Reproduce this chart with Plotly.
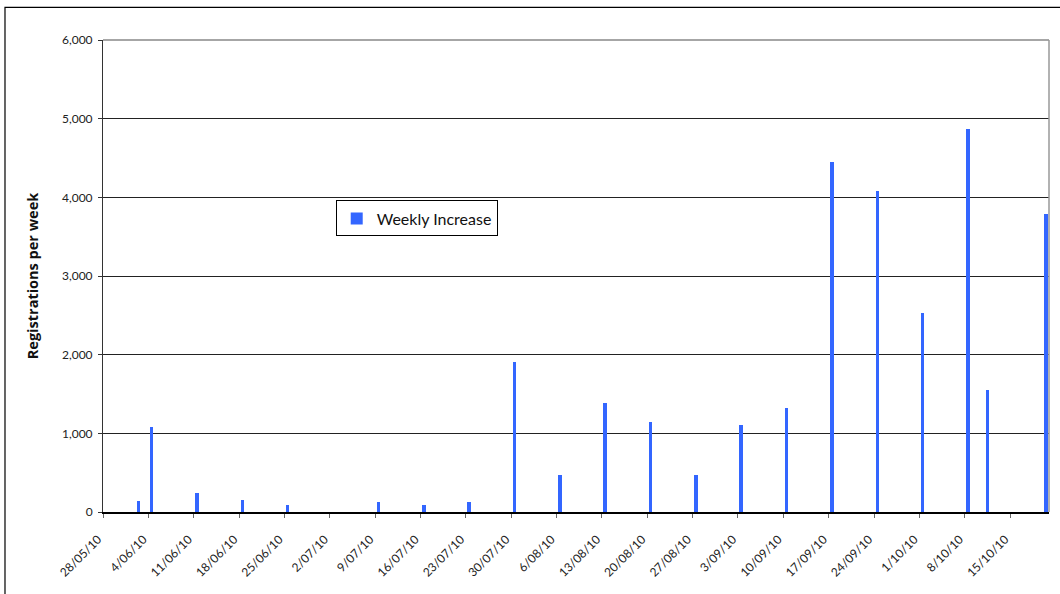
import pandas as pd
import plotly.graph_objects as go

# Weekly registration increases (date of count, registrations added)
dates = [
    "2010-06-02", "2010-06-04", "2010-06-11", "2010-06-18", "2010-06-25",
    "2010-07-09", "2010-07-16", "2010-07-23", "2010-07-30", "2010-08-06",
    "2010-08-13", "2010-08-20", "2010-08-27", "2010-09-03", "2010-09-10",
    "2010-09-17", "2010-09-24", "2010-10-01", "2010-10-08", "2010-10-11",
    "2010-10-20",
]
weekly_increase = [
    140, 1085, 240, 150, 85,
    123, 85, 123, 1910, 475,
    1390, 1148, 475, 1110, 1326,
    4455, 4086, 2536, 4872, 1545,
    3792,
]

# Axis settings
x_start, x_end = "2010-05-28", "2010-10-21"
tick_dates = pd.date_range(x_start, "2010-10-15", freq="7D")
y_ticks = [0, 1000, 2000, 3000, 4000, 5000, 6000]

FONT = "Lato, 'Open Sans', sans-serif"
TITLE_FONT = "'Open Sans', Lato, sans-serif"
DAY_MS = 86400000

fig = go.Figure()
fig.add_trace(go.Bar(
    x=pd.to_datetime(dates),
    y=weekly_increase,
    name="Weekly Increase",
    marker=dict(color="#3366FF", line=dict(width=0)),
    width=0.55 * DAY_MS,
    xperiod=DAY_MS,
    xperiodalignment="middle",
    showlegend=True,
))

fig.update_layout(
    width=1060,
    height=594,
    margin=dict(l=103, r=11, t=40, b=82, autoexpand=False),
    paper_bgcolor="white",
    plot_bgcolor="white",
    font=dict(family=FONT, size=12, color="#222"),
    bargap=0,
    showlegend=True,
    legend=dict(
        x=0.246, y=0.66, xanchor="left", yanchor="top",
        bgcolor="white", bordercolor="#000", borderwidth=1,
        font=dict(family=FONT, size=16, color="#111"),
        itemwidth=30,
        tracegroupgap=0,
    ),
    xaxis=dict(
        type="date",
        range=[x_start, x_end],
        tickvals=tick_dates,
        ticktext=[d.strftime("%-d/%m/%y") for d in tick_dates],
        tickangle=-45,
        ticks="outside",
        ticklen=4,
        tickcolor="#666",
        ticklabelstandoff=10,
        ticklabelshift=-5,
        showline=True,
        linecolor="#000",
        linewidth=1.5,
        showgrid=False,
        zeroline=False,
        tickfont=dict(family=FONT, size=12, color="#222"),
    ),
    yaxis=dict(
        range=[0, 6000],
        tickvals=y_ticks,
        tickformat=",d",
        ticks="outside",
        ticklen=4,
        tickcolor="#333",
        ticklabelstandoff=3,
        showline=True,
        linecolor="#333",
        linewidth=1,
        showgrid=True,
        gridcolor="#222",
        gridwidth=1,
        zeroline=False,
        tickfont=dict(family=FONT, size=12, color="#222"),
        title=dict(
            text="<b>Registrations per week</b>",
            font=dict(family=TITLE_FONT, size=14.5, color="#111"),
            standoff=19,
        ),
    ),
    shapes=[
        # plot-area border on top and right
        dict(type="line", xref="paper", yref="paper", x0=0, x1=1, y0=1, y1=1,
             line=dict(color="#888", width=1.5)),
        dict(type="line", xref="paper", yref="paper", x0=1, x1=1, y0=0, y1=1,
             line=dict(color="#999", width=1.5)),
        # chart frame
        dict(type="rect", xref="paper", yref="paper",
             x0=-0.1036, x1=1.015, y0=-0.2, y1=1.069,
             line=dict(color="#000", width=1.2), fillcolor="rgba(0,0,0,0)"),
    ],
)

fig.write_html("out.html")
